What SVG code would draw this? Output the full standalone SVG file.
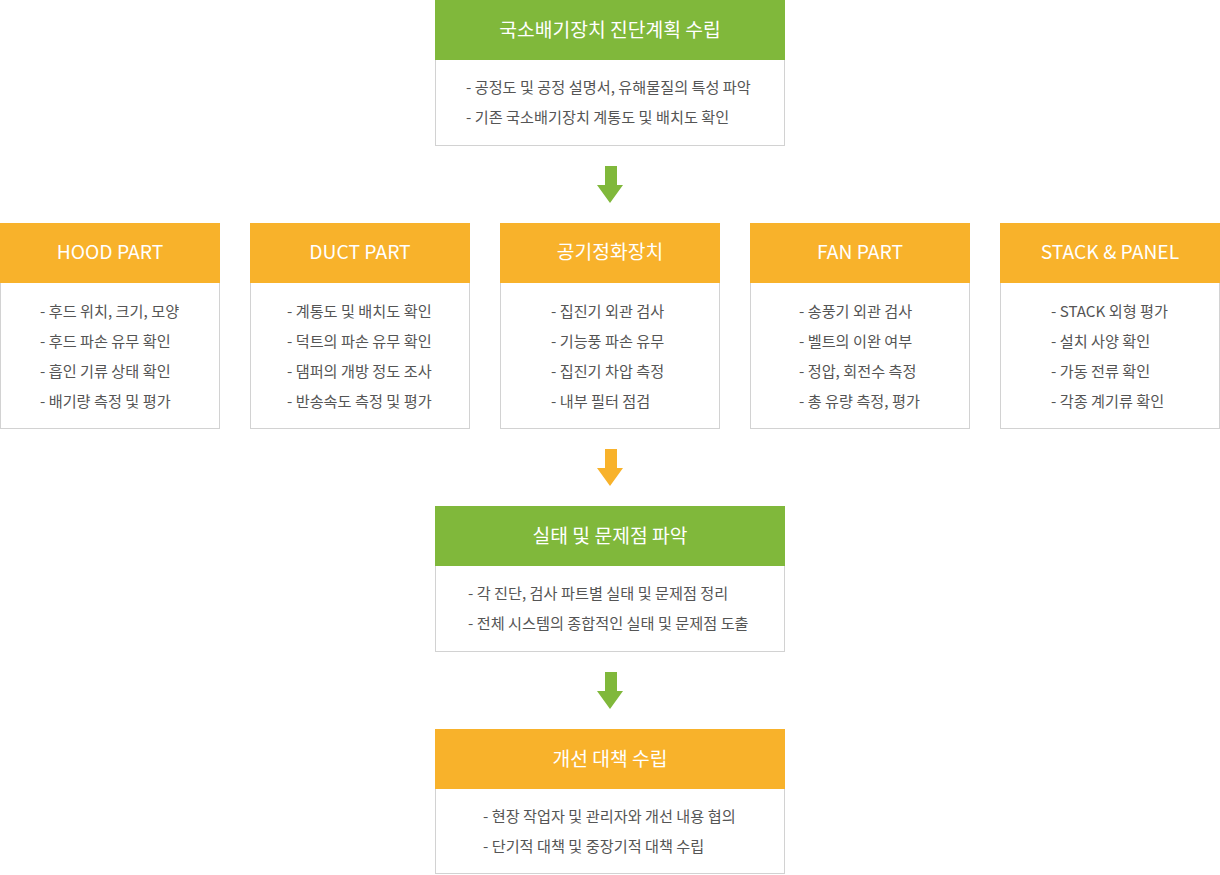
<svg xmlns="http://www.w3.org/2000/svg" width="1220" height="875" viewBox="0 0 1220 875">
<defs>
<style>
.body{fill:#fff;stroke:#d2d2d2;stroke-width:1}
.g{fill:#80b83b}
.o{fill:#f8b22b}
.h{font-family:"Noto Sans CJK KR","Noto Sans",sans-serif;font-size:19.3px;fill:#fff;text-anchor:middle}
.t{font-family:"Noto Sans CJK KR","Noto Sans",sans-serif;font-size:15.2px;fill:#555}
</style>
</defs>
<rect width="1220" height="875" fill="#fff"/>
<g id="connectors">
<path class="g" d="M605,166H617V185H623L610,203L597,185H605Z"/>
<path class="o" d="M605,449H617V468H623L610,486L597,468H605Z"/>
<path class="g" d="M605,672H617V691H623L610,709L597,691H605Z"/>
</g>
<g id="plan">
<rect class="body" x="435.5" y="59.5" width="349" height="86"/>
<rect class="g" x="435" y="0" width="350" height="60"/>
<text class="h" x="610" y="36.5">국소배기장치 진단계획 수립</text>
<text class="t" x="466" y="93">- 공정도 및 공정 설명서, 유해물질의 특성 파악</text>
<text class="t" x="466" y="123">- 기존 국소배기장치 계통도 및 배치도 확인</text>
</g>
<g id="hood">
<rect class="body" x="0.5" y="282.5" width="219" height="146"/>
<rect class="o" x="0" y="223" width="220" height="60"/>
<text class="h" x="110" y="259">HOOD PART</text>
<text class="t" x="40" y="317">- 후드 위치, 크기, 모양</text>
<text class="t" x="40" y="347">- 후드 파손 유무 확인</text>
<text class="t" x="40" y="377">- 흡인 기류 상태 확인</text>
<text class="t" x="40" y="407">- 배기량 측정 및 평가</text>
</g>
<g id="duct">
<rect class="body" x="250.5" y="282.5" width="219" height="146"/>
<rect class="o" x="250" y="223" width="220" height="60"/>
<text class="h" x="360" y="259">DUCT PART</text>
<text class="t" x="287" y="317">- 계통도 및 배치도 확인</text>
<text class="t" x="287" y="347">- 덕트의 파손 유무 확인</text>
<text class="t" x="287" y="377">- 댐퍼의 개방 정도 조사</text>
<text class="t" x="287" y="407">- 반송속도 측정 및 평가</text>
</g>
<g id="cleaner">
<rect class="body" x="500.5" y="282.5" width="219" height="146"/>
<rect class="o" x="500" y="223" width="220" height="60"/>
<text class="h" x="610" y="259">공기정화장치</text>
<text class="t" x="551" y="317">- 집진기 외관 검사</text>
<text class="t" x="551" y="347">- 기능풍 파손 유무</text>
<text class="t" x="551" y="377">- 집진기 차압 측정</text>
<text class="t" x="551" y="407">- 내부 필터 점검</text>
</g>
<g id="fan">
<rect class="body" x="750.5" y="282.5" width="219" height="146"/>
<rect class="o" x="750" y="223" width="220" height="60"/>
<text class="h" x="860" y="259">FAN PART</text>
<text class="t" x="799" y="317">- 송풍기 외관 검사</text>
<text class="t" x="799" y="347">- 벨트의 이완 여부</text>
<text class="t" x="799" y="377">- 정압, 회전수 측정</text>
<text class="t" x="799" y="407">- 총 유량 측정, 평가</text>
</g>
<g id="stack">
<rect class="body" x="1000.5" y="282.5" width="219" height="146"/>
<rect class="o" x="1000" y="223" width="220" height="60"/>
<text class="h" x="1110" y="259">STACK &amp; PANEL</text>
<text class="t" x="1051" y="317">- STACK 외형 평가</text>
<text class="t" x="1051" y="347">- 설치 사양 확인</text>
<text class="t" x="1051" y="377">- 가동 전류 확인</text>
<text class="t" x="1051" y="407">- 각종 계기류 확인</text>
</g>
<g id="status">
<rect class="body" x="435.5" y="565.5" width="349" height="86"/>
<rect class="g" x="435" y="506" width="350" height="60"/>
<text class="h" x="610" y="543">실태 및 문제점 파악</text>
<text class="t" x="468" y="599">- 각 진단, 검사 파트별 실태 및 문제점 정리</text>
<text class="t" x="468" y="629">- 전체 시스템의 종합적인 실태 및 문제점 도출</text>
</g>
<g id="improve">
<rect class="body" x="435.5" y="788.5" width="349" height="85"/>
<rect class="o" x="435" y="729" width="350" height="60"/>
<text class="h" x="610" y="766">개선 대책 수립</text>
<text class="t" x="483" y="822">- 현장 작업자 및 관리자와 개선 내용 협의</text>
<text class="t" x="483" y="852">- 단기적 대책 및 중장기적 대책 수립</text>
</g>
</svg>
